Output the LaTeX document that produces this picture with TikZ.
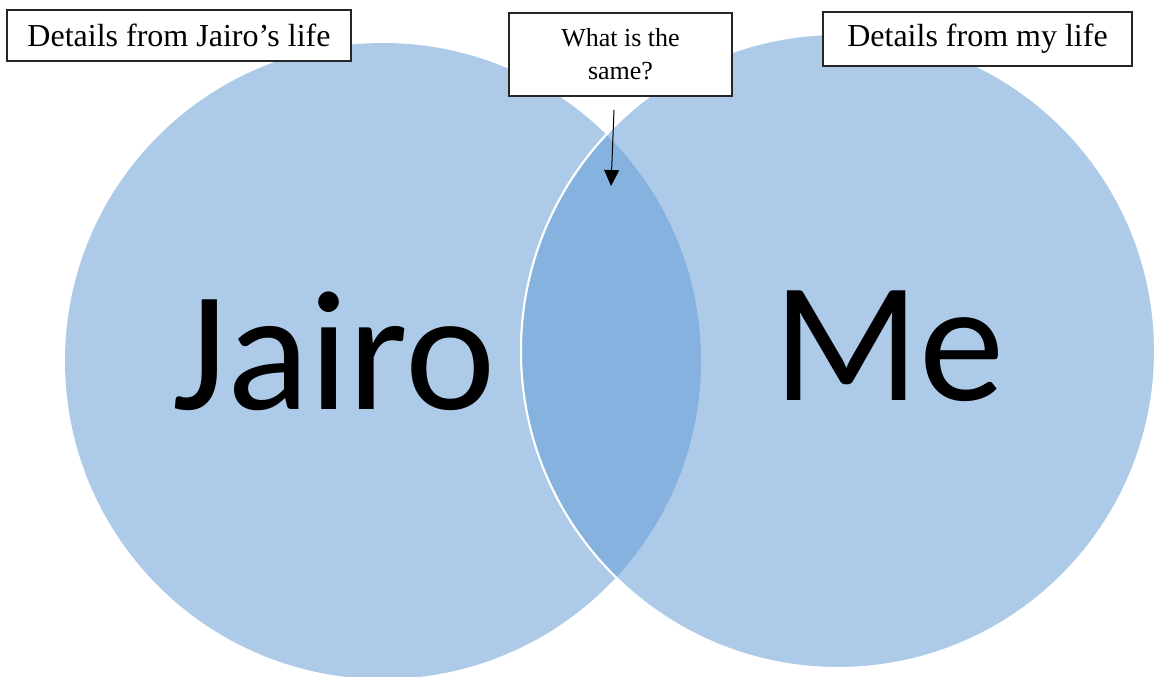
\documentclass[tikz,border=0pt]{standalone}
\usepackage{fontspec}
\setmainfont{Liberation Serif}
\newfontfamily\bigsans{Carlito}
\usetikzlibrary{arrows.meta, positioning}
\definecolor{vennlight}{RGB}{173,203,233}
\definecolor{venndark}{RGB}{133,178,222}

\begin{document}
\begin{tikzpicture}[
    x=1pt, y=-1pt,
    % Global styles
    >=Triangle,
    % Labels in boxes
    labelbox/.style = {
        rectangle,
        draw=black!85,
        line width=1.2pt,
        fill=white,
        inner sep=0pt,
        font=\fontsize{32}{38}\selectfont
    },
    % Big names inside the circles
    bigname/.style = {
        anchor=base,
        inner sep=0pt,
        font=\bigsans\fontsize{171}{171}\selectfont
    },
    % Arrow
    pointer/.style = {draw, ->, line width=1pt, black, >={Triangle[length=16pt, width=15pt]}}
]
    \useasboundingbox (0,0) rectangle (1154,677);

    % --- CIRCLES ---
    \fill [vennlight] (383,361) circle [radius=318pt];
    \filldraw [vennlight, draw=white, line width=2pt] (838,351) circle [radius=317pt];

    % Intersection (darker)
    \begin{scope}
        \clip (383,361) circle [radius=318pt];
        \filldraw [venndark, draw=white, line width=2pt] (838,351) circle [radius=317pt];
    \end{scope}

    % --- NODES ---
    \node [bigname] (jairo) at (334,409) {Jairo};
    \node [bigname] (me) at (889,400) {Me};

    \node [labelbox, minimum width=344pt, minimum height=51pt] (left) at (179,35.5) {Details from Jairo’s life};
    \node [labelbox, minimum width=309pt, minimum height=54pt] (right) at (977.5,39) {Details from my life};
    \node [labelbox, minimum width=223pt, minimum height=83pt, align=center,
           font=\fontsize{26}{33}\selectfont] (same) at (620.5,54.5) {What is the\\same?};

    % --- CONNECTIONS ---
    \coordinate (arrstart) at (614,110);
    \coordinate (arrend) at (611,186);
    \draw [pointer] (arrstart) -- (arrend);

\end{tikzpicture}
\end{document}
